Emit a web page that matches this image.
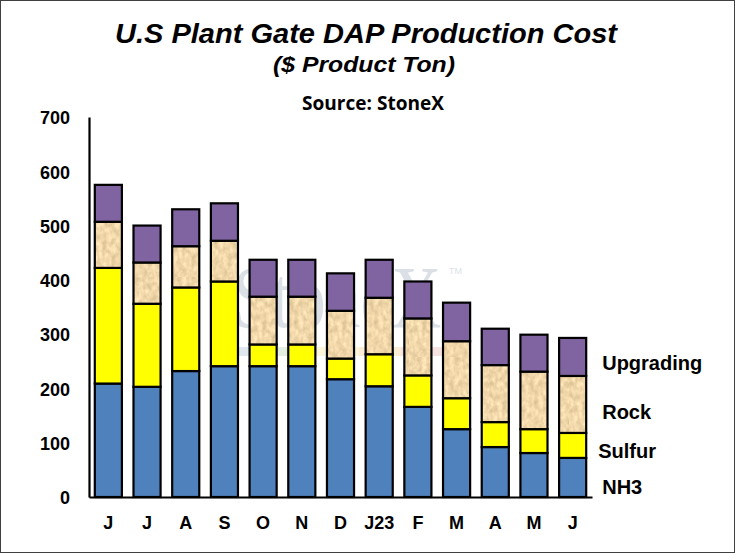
<!DOCTYPE html>
<html>
<head>
<meta charset="utf-8">
<script src="https://cdn.jsdelivr.net/npm/d3@7"></script>
<style>
  body { margin: 0; background: #fff; }
  svg { display: block; }
</style>
</head>
<body>
<div id="wrapper"></div>
<script>
// month labels (last year -> this year)
const months = ["J", "J", "A", "S", "O", "N", "D", "J23", "F", "M", "A", "M", "J"];

// cost components, $ per product ton
const nh3 = [209, 203, 232, 241, 241, 241, 217, 204, 166, 125, 92, 81, 72];
const sulfur = [213, 153, 154, 156, 40, 40, 38, 59, 58, 57, 46, 44, 46];
const rock = [85, 76, 76, 75, 88, 88, 88, 104, 105, 105, 105, 106, 105];
const upgrading = [68, 68, 68, 69, 68, 68, 69, 70, 68, 71, 67, 68, 70];

const seriesNames = ["NH3", "Sulfur", "Rock", "Upgrading"];
const yTicks = [0, 100, 200, 300, 400, 500, 600, 700];

let dimensions = {
  width: 735,
  height: 553,
  margin: { top: 117, right: 145, bottom: 55, left: 89 }
};
dimensions.boundedWidth = dimensions.width - dimensions.margin.left - dimensions.margin.right;
dimensions.boundedHeight = dimensions.height - dimensions.margin.top - dimensions.margin.bottom;

function draw() {
  // build rows for d3.stack
  const table = months.map((m, i) => ({
    idx: i,
    NH3: nh3[i],
    Sulfur: sulfur[i],
    Rock: rock[i],
    Upgrading: upgrading[i]
  }));
  const stacked = d3.stack().keys(seriesNames)(table);

  const wrapper = d3
    .select("#wrapper")
    .append("svg")
    .attr("width", dimensions.width)
    .attr("height", dimensions.height)
    .style("font-family", "'Liberation Sans', Arial, sans-serif");

  const defs = wrapper.append("defs");

  // parchment look for the Rock segments
  const filter = defs
    .append("filter")
    .attr("id", "parchment")
    .attr("color-interpolation-filters", "sRGB")
    .attr("x", 0)
    .attr("y", 0)
    .attr("width", 1)
    .attr("height", 1);
  filter
    .append("feTurbulence")
    .attr("type", "fractalNoise")
    .attr("baseFrequency", "0.22 0.16")
    .attr("numOctaves", 3)
    .attr("seed", 4);
  filter
    .append("feColorMatrix")
    .attr("type", "matrix")
    .attr("values", "0.25 0 0 0 0.82  0.25 0 0 0 0.72  0.25 0 0 0 0.54  0 0 0 0 1");

  const pattern = defs
    .append("pattern")
    .attr("id", "rockFill")
    .attr("patternUnits", "userSpaceOnUse")
    .attr("width", 80)
    .attr("height", 80);
  pattern
    .append("rect")
    .attr("width", 80)
    .attr("height", 80)
    .attr("fill", "#efd6a8")
    .attr("filter", "url(#parchment)");

  const colors = {
    NH3: "#4f81bd",
    Sulfur: "#ffff00",
    Rock: "url(#rockFill)",
    Upgrading: "#8064a2"
  };

  // outer frame
  wrapper
    .append("rect")
    .attr("x", 0.5)
    .attr("y", 0.5)
    .attr("width", dimensions.width - 1)
    .attr("height", dimensions.height - 1)
    .attr("fill", "#fff")
    .attr("stroke", "#404040")
    .attr("stroke-width", 1);

  // titles
  wrapper
    .append("text")
    .attr("x", 366)
    .attr("y", 43)
    .attr("text-anchor", "middle")
    .attr("font-size", 27)
    .attr("font-weight", "bold")
    .attr("font-style", "italic")
    .attr("textLength", 502)
    .attr("lengthAdjust", "spacingAndGlyphs")
    .text("U.S Plant Gate DAP Production Cost");

  wrapper
    .append("text")
    .attr("x", 364)
    .attr("y", 72)
    .attr("text-anchor", "middle")
    .attr("font-size", 22)
    .attr("font-weight", "bold")
    .attr("font-style", "italic")
    .attr("textLength", 182)
    .attr("lengthAdjust", "spacingAndGlyphs")
    .text("($ Product Ton)");

  wrapper
    .append("text")
    .attr("x", 373)
    .attr("y", 110)
    .attr("text-anchor", "middle")
    .attr("font-size", 19)
    .attr("font-weight", "bold")
    .attr("font-family", "'Open Sans', sans-serif")
    .attr("textLength", 142)
    .attr("lengthAdjust", "spacingAndGlyphs")
    .text("Source: StoneX");

  // faint StoneX watermark behind the bars
  const mark = wrapper.append("g").attr("opacity", 0.3);
  mark
    .append("text")
    .attr("transform", "translate(233, 327) scale(0.79, 1)")
    .attr("font-family", "'Liberation Serif', 'DejaVu Serif', serif")
    .attr("font-size", 88)
    .attr("fill", "#8a9bb0")
    .text("StoneX");
  mark
    .append("text")
    .attr("x", 449)
    .attr("y", 274)
    .attr("font-size", 9)
    .attr("fill", "#8a9bb0")
    .text("TM");
  const stripe = ["#9fb3c8", "#a8c8a0", "#f0e08a", "#f2c27a", "#e8a0a0"];
  mark
    .selectAll("rect.stripe")
    .data(stripe)
    .join("rect")
    .attr("class", "stripe")
    .attr("x", (d, i) => 233 + i * 42)
    .attr("y", 347)
    .attr("width", 42)
    .attr("height", 9)
    .attr("fill", d => d);

  const bounds = wrapper
    .append("g")
    .attr("transform", `translate(${dimensions.margin.left}, ${dimensions.margin.top})`);

  const xScale = d3
    .scaleBand()
    .domain(d3.range(months.length))
    .range([0, dimensions.boundedWidth + 2])
    .paddingInner(0.3)
    .paddingOuter(0.15);

  const yScale = d3
    .scaleLinear()
    .domain([0, 700])
    .range([dimensions.boundedHeight - 1, 0]);

  // stacked bars
  bounds
    .selectAll("g.series")
    .data(stacked)
    .join("g")
    .attr("class", "series")
    .attr("fill", d => colors[d.key])
    .selectAll("rect")
    .data(d => d)
    .join("rect")
    .attr("x", d => xScale(d.data.idx))
    .attr("y", d => yScale(d[1]))
    .attr("width", xScale.bandwidth())
    .attr("height", d => yScale(d[0]) - yScale(d[1]))
    .attr("stroke", "#000")
    .attr("stroke-width", 2.2);

  // axes
  const yAxisGenerator = d3
    .axisLeft(yScale)
    .tickValues(yTicks)
    .tickSize(0)
    .tickPadding(19);

  const yAxis = bounds.append("g").call(yAxisGenerator);
  yAxis.select(".domain").attr("stroke", "#000").attr("stroke-width", 2.2);
  yAxis
    .selectAll("text")
    .attr("font-size", 18)
    .attr("font-weight", "bold")
    .attr("font-family", "'Liberation Sans', Arial, sans-serif")
    .attr("fill", "#000")
    .attr("dy", "0.38em");

  const xAxisGenerator = d3
    .axisBottom(xScale)
    .tickSize(0)
    .tickPadding(19)
    .tickFormat(i => months[i]);

  const xAxis = bounds
    .append("g")
    .attr("transform", `translate(0, ${dimensions.boundedHeight - 1})`)
    .call(xAxisGenerator);
  xAxis.select(".domain").attr("stroke", "#000").attr("stroke-width", 2.2);
  xAxis
    .selectAll("text")
    .attr("font-size", 18)
    .attr("font-weight", "bold")
    .attr("font-family", "'Liberation Sans', Arial, sans-serif")
    .attr("fill", "#000");

  // series labels beside the last bar
  const last = months.length - 1;
  const labelShift = { NH3: 0, Sulfur: -4, Rock: 0, Upgrading: 0 };
  const labelDrop = { NH3: 10, Sulfur: 6, Rock: 8, Upgrading: 6 };
  bounds
    .selectAll("text.series-label")
    .data(stacked)
    .join("text")
    .attr("class", "series-label")
    .attr("x", d => xScale(last) + xScale.bandwidth() + 16 + labelShift[d.key])
    .attr("y", d => yScale((d[last][0] + d[last][1]) / 2) + labelDrop[d.key])
    .attr("dy", "0.35em")
    .attr("font-size", 20)
    .attr("font-weight", "bold")
    .attr("fill", "#000")
    .text(d => d.key);
}

draw();
</script>
</body>
</html>
